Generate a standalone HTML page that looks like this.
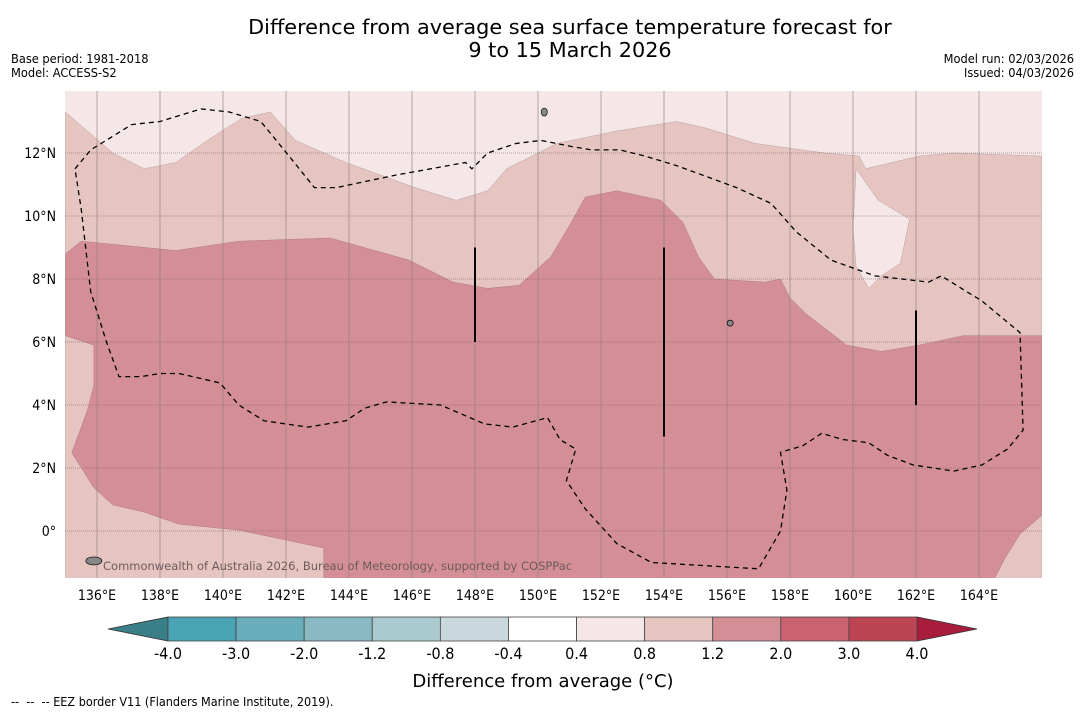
<!DOCTYPE html>
<html><head><meta charset="utf-8"><style>
body{margin:0;background:#fff;width:1085px;height:713px;overflow:hidden;font-family:"DejaVu Sans Condensed","Liberation Sans Narrow","DejaVu Sans",sans-serif}
svg text{font-family:"DejaVu Sans Condensed","Liberation Sans Narrow","DejaVu Sans",sans-serif}
svg text.wide{font-family:"DejaVu Sans",sans-serif}
</style></head><body>
<svg id="c" width="1085" height="713" xmlns="http://www.w3.org/2000/svg">
<text class="wide" x="570" y="34" font-size="20.8" text-anchor="middle">Difference from average sea surface temperature forecast for</text>
<text class="wide" x="570" y="57" font-size="20.8" text-anchor="middle">9 to 15 March 2026</text>
<text x="11" y="63" font-size="12.7">Base period: 1981-2018</text>
<text x="11" y="77" font-size="12.7">Model: ACCESS-S2</text>
<text x="1074" y="63" font-size="12.7" text-anchor="end">Model run: 02/03/2026</text>
<text x="1074" y="77" font-size="12.7" text-anchor="end">Issued: 04/03/2026</text>
<defs><clipPath id="mc"><rect x="65" y="91" width="977" height="487"/></clipPath></defs>
<g id="map" clip-path="url(#mc)"></g>
<text class="wide" x="103" y="570" font-size="11.5" fill="#6e5a5c">Commonwealth of Australia 2026, Bureau of Meteorology, supported by COSPPac</text>
<g id="axes"></g>
<g id="cbar"></g>
<text class="wide" x="543" y="687" font-size="18" text-anchor="middle">Difference from average (°C)</text>
<text x="11" y="706" font-size="12.5">-- &#160;-- &#160;-- EEZ border V11 (Flanders Marine Institute, 2019).</text>
</svg>
<script>
const lonTicks=[136,138,140,142,144,146,148,150,152,154,156,158,160,162,164];
const latTicks=[0,2,4,6,8,10,12];
const levels=[-4.0,-3.0,-2.0,-1.2,-0.8,-0.4,0.4,0.8,1.2,2.0,3.0,4.0];
const levelColors=["#4aa3b3","#6aaebb","#8bb9c3","#abcacf","#c9d8dc","#ffffff","#f5e7e7","#e6c5c1","#d48f96","#c9636f","#bd4453"];
const lowColor="#3a7e88", highColor="#a81c3c";
// contour polygons in [lon,lat]
const band08=[[135,13.3],[136.5,12.0],[137.5,11.5],[138.5,11.7],[139.5,12.4],[140.6,13.1],[141.5,13.3],[142.3,12.4],[143.9,11.7],[146.1,10.9],[147.4,10.5],[148.4,10.8],[149.0,11.5],[150.6,12.3],[152.5,12.7],[154.4,13.0],[155.3,12.8],[156.9,12.3],[159.1,12.0],[160.2,11.9],[160.4,11.5],[162.1,11.9],[163.2,12.0],[166,11.9],[166,-2],[135,-2]];
const band12=[[135,8.8],[135.5,9.2],[138.5,8.9],[140.5,9.2],[143.4,9.3],[145.9,8.6],[147.3,7.9],[148.4,7.7],[149.4,7.8],[150.4,8.7],[151.0,9.7],[151.5,10.6],[152.5,10.8],[153.9,10.5],[154.6,9.8],[155.1,8.7],[155.6,8.0],[157.2,7.9],[157.7,8.0],[158.0,7.4],[158.5,6.9],[159.8,5.9],[160.9,5.7],[162.1,5.9],[163.5,6.2],[166,6.2],[166,0.5],[165.3,-0.1],[164.8,-0.9],[164.5,-1.5],[143.2,-1.5],[143.2,-0.54],[140.5,0.03],[138.6,0.22],[137.5,0.6],[136.5,0.83],[135.9,1.37],[135.2,2.48],[135.7,3.84],[135.9,4.63],[135.9,5.9],[135,6.2]];
const patch04=[[160.1,11.5],[160.8,10.5],[161.8,9.9],[161.5,8.5],[160.9,8.1],[160.5,7.7],[160.1,8.4],[160.0,9.6]];
const eez=[[135.3,11.5],[135.8,12.1],[137.1,12.9],[138.0,13.0],[139.3,13.4],[140.2,13.3],[141.2,13.0],[142.1,11.9],[142.9,10.9],[143.6,10.9],[145.5,11.3],[147.7,11.7],[147.9,11.5],[148.4,12.0],[149.3,12.3],[150.1,12.4],[151.1,12.2],[151.7,12.1],[152.6,12.1],[153.4,11.9],[154.4,11.6],[156.3,10.9],[157.4,10.4],[158.2,9.5],[159.3,8.6],[160.7,8.1],[162.4,7.9],[162.8,8.1],[164.1,7.3],[165.3,6.3],[165.4,3.2],[164.9,2.6],[164.1,2.1],[163.2,1.9],[161.9,2.1],[161.1,2.4],[160.5,2.8],[159.7,2.9],[159.0,3.1],[158.4,2.7],[157.7,2.5],[157.9,1.3],[157.7,0.0],[157.0,-1.2],[153.6,-1.0],[152.5,-0.4],[151.5,0.7],[150.9,1.6],[151.2,2.6],[150.7,2.9],[150.3,3.6],[149.2,3.3],[148.3,3.4],[146.9,4.0],[145.2,4.1],[144.5,3.9],[143.9,3.5],[142.7,3.3],[141.3,3.5],[140.5,4.0],[139.9,4.7],[138.6,5.0],[138.0,5.0],[137.4,4.9],[136.7,4.9],[136.3,6.0],[135.8,7.6],[135.5,10.2],[135.3,11.5]];
const segLon=[148,154,162];
const segLat0=[6.0,3.0,4.0];
const segLat1=[9.0,9.0,7.0];

const X=lon=>65.5+(lon-135)*31.5;
const Y=lat=>531-lat*31.5;
const NS="http://www.w3.org/2000/svg";
function mk(tag,parent,attrs){const e=document.createElementNS(NS,tag);for(const k in attrs)e.setAttribute(k,attrs[k]);parent.appendChild(e);return e;}
const pts=a=>a.map(p=>X(p[0]).toFixed(1)+","+Y(p[1]).toFixed(1)).join(" ");
const map=document.getElementById('map');
let r=mk('rect',map,{x:65,y:91,width:977,height:487,fill:levelColors[6]});


let p=mk('polygon',map,{points:pts(band08),fill:levelColors[7],stroke:"#b8a0a0","stroke-width":0.5});


p=mk('polygon',map,{points:pts(patch04),fill:levelColors[6],stroke:"#b8a0a0","stroke-width":0.5});


p=mk('polygon',map,{points:pts(band12),fill:levelColors[8],stroke:"#b07880","stroke-width":0.5});


lonTicks.forEach(l=>{const g=mk('line',map,{x1:X(l),x2:X(l),y1:91,y2:578,stroke:"#8a7a7a","stroke-width":0.6});

});
latTicks.forEach(l=>{const g=mk('line',map,{x1:65,x2:1042,y1:Y(l),y2:Y(l),stroke:"#6a5a5a","stroke-width":0.6,"stroke-dasharray":"1,1"});

});
p=mk('polyline',map,{points:pts(eez),fill:"none",stroke:"#000","stroke-width":1.3,"stroke-dasharray":"5,4"});


segLon.forEach((l,i)=>{const s=mk('line',map,{x1:X(l),x2:X(l),y1:Y(segLat1[i]),y2:Y(segLat0[i]),stroke:"#000","stroke-width":2});

});
// islands
[[135.9,-0.95,8,4],[150.2,13.3,3,4],[156.1,6.6,3,3]].forEach(d=>{const e=mk('ellipse',map,{cx:X(d[0]),cy:Y(d[1]),rx:d[2],ry:d[3],fill:"#888",stroke:"#000","stroke-width":0.7});

});
const axes=document.getElementById('axes');
lonTicks.forEach(l=>{const t=mk('text',axes,{x:X(l),y:600,"font-size":14,"text-anchor":"middle"});t.textContent=l+"°E";

});
latTicks.forEach(l=>{const t=mk('text',axes,{x:56,y:Y(l)+5,"font-size":14,"text-anchor":"end"});t.textContent=l===0?"0°":l+"°N";

});
const cb=document.getElementById('cbar');
const cx0=168,cx1=917,cy=617,ch=24,sw=(cx1-cx0)/(levels.length-1);
let t1=mk('polygon',cb,{points:`108,${cy+ch/2} ${cx0},${cy} ${cx0},${cy+ch}`,fill:lowColor,stroke:"#333","stroke-width":0.8});


let t2=mk('polygon',cb,{points:`977,${cy+ch/2} ${cx1},${cy} ${cx1},${cy+ch}`,fill:highColor,stroke:"#333","stroke-width":0.8});


levelColors.forEach((c,i)=>{const s=mk('rect',cb,{x:cx0+i*sw,y:cy,width:sw,height:ch,fill:c,stroke:"#444","stroke-width":0.8});

});
levels.forEach((v,i)=>{const t=mk('text',cb,{x:cx0+i*sw,y:659,"font-size":16,"text-anchor":"middle"});t.textContent=v.toFixed(1);

});
</script>
</body></html>
